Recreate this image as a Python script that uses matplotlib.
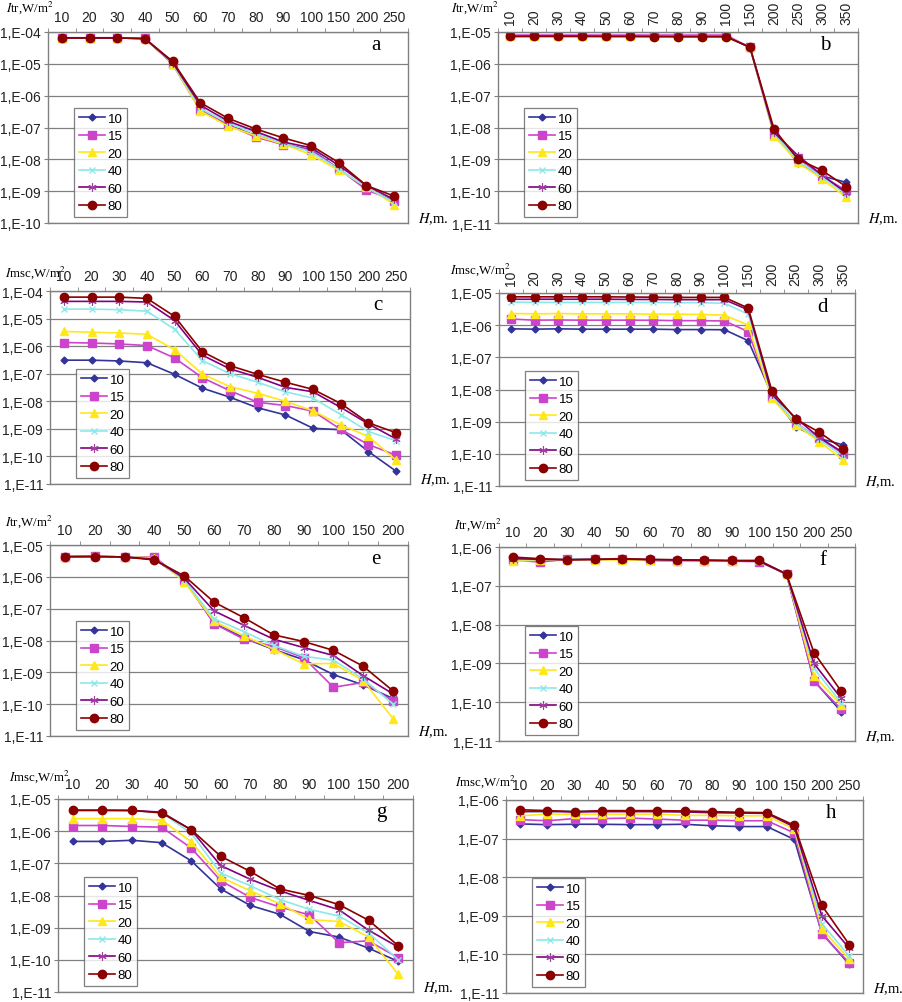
import numpy as np
import matplotlib
matplotlib.use("Agg")
import matplotlib.pyplot as plt
from matplotlib.ticker import FixedLocator, NullFormatter

plt.rcParams['font.family'] = ['Liberation Sans', 'DejaVu Sans']
plt.rcParams['mathtext.fontset'] = 'stix'

# categories (H, m)
h_short = [10, 20, 30, 40, 50, 60, 70, 80, 90, 100, 150, 200, 250]
h_long = [10, 20, 30, 40, 50, 60, 70, 80, 90, 100, 150, 200, 250, 300, 350]
h_200 = [10, 20, 30, 40, 50, 60, 70, 80, 90, 100, 150, 200]

labels = ['10', '15', '20', '40', '60', '80']

# panel a: Itr
itr_a = {
    '10': [6.5e-5, 6.5e-5, 6.5e-5, 6.2e-5, 1.0e-5, 3.5e-7, 1.2e-7, 5.5e-8, 3.0e-8, 2.0e-8, 5.0e-9, 1.2e-9, 5.0e-10],
    '15': [6.6e-5, 6.6e-5, 6.6e-5, 6.4e-5, 1.0e-5, 3.5e-7, 1.2e-7, 5.0e-8, 2.9e-8, 1.9e-8, 5.0e-9, 1.1e-9, 5.0e-10],
    '20': [6.5e-5, 6.5e-5, 6.5e-5, 6.2e-5, 1.0e-5, 3.3e-7, 1.1e-7, 5.5e-8, 3.0e-8, 1.4e-8, 4.5e-9, 1.4e-9, 3.8e-10],
    '40': [6.5e-5, 6.5e-5, 6.5e-5, 6.2e-5, 1.05e-5, 4.0e-7, 1.4e-7, 6.5e-8, 3.2e-8, 1.7e-8, 5.0e-9, 1.3e-9, 4.5e-10],
    '60': [6.5e-5, 6.5e-5, 6.5e-5, 6.2e-5, 1.1e-5, 5.0e-7, 1.6e-7, 7.5e-8, 3.5e-8, 2.3e-8, 6.5e-9, 1.5e-9, 5.5e-10],
    '80': [6.5e-5, 6.5e-5, 6.5e-5, 6.2e-5, 1.2e-5, 6.0e-7, 1.95e-7, 9.0e-8, 4.7e-8, 2.7e-8, 7.9e-9, 1.5e-9, 7.0e-10],
}

# panel b: Itr
itr_b = {
    '10': [7.3e-6] * 10 + [3.3e-6, 7.0e-9, 7.5e-10, 3.0e-10, 1.9e-10],
    '15': [8.0e-6] * 10 + [3.3e-6, 6.0e-9, 1.1e-9, 3.0e-10, 1.05e-10],
    '20': [7.3e-6] * 10 + [3.3e-6, 5.5e-9, 8.0e-10, 2.4e-10, 6.5e-11],
    '40': [7.3e-6] * 10 + [3.3e-6, 6.5e-9, 9.0e-10, 2.8e-10, 8.0e-11],
    '60': [7.3e-6] * 10 + [3.3e-6, 7.0e-9, 1.3e-9, 3.2e-10, 9.0e-11],
    '80': [7.3e-6, 7.4e-6, 7.4e-6, 7.4e-6, 7.3e-6, 7.3e-6, 7.2e-6, 7.1e-6, 7.1e-6, 7.1e-6,
           3.3e-6, 9.0e-9, 1.0e-9, 4.5e-10, 1.4e-10],
}

# panel c: Imsc
imsc_c = {
    '10': [3.1e-7, 3.1e-7, 2.9e-7, 2.5e-7, 9.5e-8, 3.0e-8, 1.4e-8, 5.8e-9, 3.2e-9, 1.05e-9, 9.3e-10, 1.5e-10, 2.9e-11],
    '15': [1.35e-6, 1.3e-6, 1.2e-6, 1.05e-6, 3.7e-7, 7.2e-8, 2.4e-8, 9.2e-9, 7.0e-9, 4.4e-9, 9.5e-10, 2.7e-10, 1.1e-10],
    '20': [3.4e-6, 3.2e-6, 3.0e-6, 2.7e-6, 7.4e-7, 9.8e-8, 3.4e-8, 1.95e-8, 1.0e-8, 4.5e-9, 1.4e-9, 5.3e-10, 7.2e-11],
    '40': [2.2e-5, 2.2e-5, 2.1e-5, 1.85e-5, 4.1e-6, 3.0e-7, 1.0e-7, 4.9e-8, 2.2e-8, 1.3e-8, 3.3e-9, 8.0e-10, 3.7e-10],
    '60': [4.2e-5, 4.2e-5, 4.2e-5, 4.0e-5, 8.5e-6, 4.7e-7, 1.5e-7, 7.4e-8, 3.2e-8, 2.2e-8, 6.0e-9, 1.5e-9, 4.3e-10],
    '80': [6.0e-5, 6.0e-5, 6.0e-5, 5.4e-5, 1.2e-5, 6.3e-7, 1.95e-7, 9.5e-8, 4.9e-8, 2.7e-8, 8.3e-9, 1.65e-9, 7.2e-10],
}

# panel d: Imsc
imsc_d = {
    '10': [7.7e-7, 7.5e-7, 7.7e-7, 7.5e-7, 7.5e-7, 7.5e-7, 7.5e-7, 7.3e-7, 7.3e-7, 7.2e-7,
           3.3e-7, 7.0e-9, 7.0e-10, 3.0e-10, 1.9e-10],
    '15': [1.55e-6, 1.43e-6, 1.45e-6, 1.43e-6, 1.43e-6, 1.43e-6, 1.42e-6, 1.38e-6, 1.38e-6, 1.35e-6,
           6.3e-7, 6.0e-9, 9.0e-10, 3.0e-10, 1.0e-10],
    '20': [2.3e-6, 2.25e-6, 2.3e-6, 2.25e-6, 2.25e-6, 2.25e-6, 2.2e-6, 2.2e-6, 2.15e-6, 2.05e-6,
           1.0e-6, 5.3e-9, 8.0e-10, 2.4e-10, 6.5e-11],
    '40': [5.2e-6, 5.1e-6, 5.1e-6, 5.1e-6, 5.1e-6, 5.1e-6, 5.1e-6, 5.0e-6, 5.0e-6, 4.8e-6,
           2.2e-6, 6.5e-9, 9.0e-10, 2.8e-10, 8.5e-11],
    '60': [6.4e-6, 6.4e-6, 6.4e-6, 6.4e-6, 6.4e-6, 6.3e-6, 6.3e-6, 6.2e-6, 6.2e-6, 6.2e-6,
           3.0e-6, 7.0e-9, 1.3e-9, 3.2e-10, 1.1e-10],
    '80': [7.6e-6, 7.6e-6, 7.6e-6, 7.6e-6, 7.6e-6, 7.5e-6, 7.4e-6, 7.3e-6, 7.3e-6, 7.3e-6,
           3.4e-6, 9.0e-9, 1.2e-9, 4.7e-10, 1.4e-10],
}

# panel e: Itr
itr_e = {
    '10': [4.3e-6, 4.4e-6, 4.2e-6, 3.6e-6, 8.0e-7, 3.5e-8, 1.2e-8, 5.2e-9, 2.5e-9, 8.5e-10, 4.0e-10, 1.5e-10],
    '15': [4.3e-6, 4.4e-6, 4.2e-6, 4.2e-6, 8.0e-7, 3.4e-8, 1.1e-8, 6.5e-9, 2.9e-9, 3.4e-10, 4.8e-10, 1.25e-10],
    '20': [4.3e-6, 4.4e-6, 4.2e-6, 4.0e-6, 7.0e-7, 4.0e-8, 1.4e-8, 5.3e-9, 1.85e-9, 1.9e-9, 5.5e-10, 3.5e-11],
    '40': [4.3e-6, 4.4e-6, 4.2e-6, 3.8e-6, 8.0e-7, 4.8e-8, 1.9e-8, 7.0e-9, 3.2e-9, 2.4e-9, 6.2e-10, 1.0e-10],
    '60': [4.3e-6, 4.4e-6, 4.2e-6, 3.6e-6, 9.0e-7, 8.5e-8, 3.0e-8, 1.1e-8, 6.0e-9, 3.4e-9, 7.8e-10, 2.1e-10],
    '80': [4.3e-6, 4.3e-6, 4.2e-6, 3.4e-6, 1.07e-6, 1.6e-7, 5.2e-8, 1.5e-8, 9.3e-9, 4.9e-9, 1.55e-9, 2.6e-10],
}

# panel f: Itr
itr_f = {
    '10': [4.8e-7, 4.6e-7, 4.7e-7, 4.8e-7, 4.9e-7, 4.7e-7, 4.6e-7, 4.5e-7, 4.4e-7, 4.3e-7, 2.0e-7, 3.6e-10, 5.7e-11],
    '15': [4.6e-7, 4.1e-7, 4.8e-7, 4.8e-7, 4.8e-7, 4.5e-7, 4.3e-7, 4.3e-7, 4.3e-7, 4.2e-7, 2.0e-7, 3.5e-10, 6.5e-11],
    '20': [4.3e-7, 4.6e-7, 4.7e-7, 4.7e-7, 4.6e-7, 4.6e-7, 4.4e-7, 4.4e-7, 4.3e-7, 4.5e-7, 2.0e-7, 4.8e-10, 8.5e-11],
    '40': [4.8e-7, 4.7e-7, 4.9e-7, 4.9e-7, 5.0e-7, 4.8e-7, 4.6e-7, 4.5e-7, 4.4e-7, 4.4e-7, 2.0e-7, 7.5e-10, 9.5e-11],
    '60': [5.0e-7, 4.8e-7, 4.7e-7, 4.8e-7, 4.9e-7, 4.7e-7, 4.6e-7, 4.5e-7, 4.4e-7, 4.3e-7, 2.0e-7, 1.0e-9, 1.25e-10],
    '80': [5.5e-7, 5.0e-7, 4.7e-7, 4.8e-7, 5.0e-7, 4.8e-7, 4.7e-7, 4.6e-7, 4.5e-7, 4.5e-7, 2.0e-7, 1.9e-9, 1.9e-10],
}

# panel g: Imsc
imsc_g = {
    '10': [4.8e-7, 4.8e-7, 5.2e-7, 4.4e-7, 1.2e-7, 1.6e-8, 4.9e-9, 2.6e-9, 7.6e-10, 5.1e-10, 2.3e-10, 8.9e-11],
    '15': [1.5e-6, 1.5e-6, 1.4e-6, 1.33e-6, 3.0e-7, 2.9e-8, 8.7e-9, 4.4e-9, 2.5e-9, 3.4e-10, 3.9e-10, 1.15e-10],
    '20': [2.45e-6, 2.45e-6, 2.45e-6, 2.2e-6, 4.7e-7, 3.7e-8, 1.4e-8, 5.5e-9, 1.8e-9, 1.55e-9, 5.1e-10, 3.5e-11],
    '40': [4.4e-6, 4.4e-6, 4.4e-6, 3.8e-6, 8.6e-7, 5.0e-8, 2.0e-8, 7.5e-9, 3.7e-9, 2.3e-9, 6.8e-10, 1.0e-10],
    '60': [4.4e-6, 4.4e-6, 4.4e-6, 3.9e-6, 1.1e-6, 8.5e-8, 3.2e-8, 1.4e-8, 7.0e-9, 3.6e-9, 8.3e-10, 2.5e-10],
    '80': [4.5e-6, 4.5e-6, 4.4e-6, 3.7e-6, 1.12e-6, 1.66e-7, 5.6e-8, 1.6e-8, 1.0e-8, 5.2e-9, 1.7e-9, 2.75e-10],
}

# panel h: Imsc
imsc_h = {
    '10': [2.4e-7, 2.3e-7, 2.35e-7, 2.35e-7, 2.3e-7, 2.3e-7, 2.35e-7, 2.15e-7, 2.05e-7, 2.05e-7, 9.5e-8, 3.6e-10, 5.5e-11],
    '15': [3.1e-7, 2.9e-7, 3.3e-7, 3.3e-7, 3.4e-7, 3.2e-7, 3.0e-7, 3.0e-7, 2.9e-7, 2.9e-7, 1.4e-7, 3.4e-10, 6.0e-11],
    '20': [3.9e-7, 4.3e-7, 4.3e-7, 4.3e-7, 4.3e-7, 4.3e-7, 4.0e-7, 4.0e-7, 3.9e-7, 3.9e-7, 1.75e-7, 4.6e-10, 7.5e-11],
    '40': [5.0e-7, 4.8e-7, 5.3e-7, 5.1e-7, 5.2e-7, 5.1e-7, 4.9e-7, 4.8e-7, 4.7e-7, 4.5e-7, 2.0e-7, 6.3e-10, 9.0e-11],
    '60': [5.0e-7, 5.1e-7, 4.9e-7, 5.0e-7, 5.0e-7, 5.0e-7, 4.9e-7, 4.7e-7, 4.6e-7, 4.5e-7, 2.0e-7, 1.0e-9, 1.45e-10],
    '80': [5.6e-7, 5.3e-7, 5.0e-7, 5.3e-7, 5.3e-7, 5.3e-7, 5.2e-7, 5.0e-7, 4.8e-7, 4.7e-7, 2.2e-7, 1.85e-9, 1.8e-10],
}

styles = {
    '10': dict(color='#333399', marker='D', ms=3.5, mfc='#333399', mec='#333399'),
    '15': dict(color='#cc44cc', marker='s', ms=5.5, mfc='#cc44cc', mec='#cc44cc'),
    '20': dict(color='#ffe81a', marker='^', ms=5.5, mfc='#ffe81a', mec='#ffe81a'),
    '40': dict(color='#8ee8e8', marker='x', ms=5, mfc='#8ee8e8', mec='#8ee8e8', mew=1.0),
    '60': dict(color='#800080', marker=(6, 2, 0), ms=6, mfc='#800080', mec='#a040a0', mew=0.8),
    '80': dict(color='#8b0000', marker='o', ms=6, mfc='#8b0000', mec='#8b0000'),
}

W, H = 903, 1003
fig = plt.figure(figsize=(W / 100, H / 100), dpi=100)

# (left, top, right, bottom) in pixels, title x and offset above the axes
panels = [
    ('a', (48, 33, 408, 224), (6, 25), h_short, itr_a, (1e-10, 1e-4), 'tr', False),
    ('b', (498, 33, 858, 224), (451, 25), h_long, itr_b, (1e-11, 1e-5), 'tr', True),
    ('c', (50, 292, 410, 485), (5, 19), h_short, imsc_c, (1e-11, 1e-4), 'msc', False),
    ('d', (499, 294, 855, 487), (450, 24), h_long, imsc_d, (1e-11, 1e-5), 'msc', True),
    ('e', (50, 546, 408, 737), (5, 24), h_200, itr_e, (1e-11, 1e-5), 'tr', False),
    ('f', (499, 548, 855, 742), (454, 23), h_short, itr_f, (1e-11, 1e-6), 'tr', False),
    ('g', (58, 800, 413, 993), (9, 23), h_200, imsc_g, (1e-11, 1e-5), 'msc', False),
    ('h', (506, 801, 863, 994), (455, 19), h_short, imsc_h, (1e-11, 1e-6), 'msc', False),
]

serif = ['Liberation Serif', 'DejaVu Serif']

for letter, (l, t, r, b), (tx, toff), cats, series, ylim, kind, rotated in panels:
    ax = fig.add_axes([l / W, 1 - b / H, (r - l) / W, (b - t) / H])
    x = np.arange(len(cats))
    for lab in labels:
        ax.plot(x, series[lab], lw=1.2, label=lab, **styles[lab])
    ax.set_yscale('log')
    ax.set_ylim(*ylim)
    ax.set_xlim(-0.5, len(cats) - 0.5)

    decades = 10.0 ** np.arange(np.log10(ylim[0]), np.log10(ylim[1]) + 0.5)
    ax.yaxis.set_major_locator(FixedLocator(decades))
    ax.yaxis.set_minor_locator(FixedLocator([]))
    ax.set_yticklabels(['1,E%+03d' % round(np.log10(v)) for v in decades])
    ax.yaxis.set_minor_formatter(NullFormatter())
    ax.grid(axis='y', color='#808080', lw=0.9)
    ax.set_axisbelow(True)

    ax.xaxis.tick_top()
    ax.set_xticks(x)
    ax.set_xticklabels([str(c) for c in cats], rotation=90 if rotated else 0)
    ax.set_xticks(np.arange(len(cats) + 1) - 0.5, minor=True)
    ax.tick_params(axis='x', which='major', length=0, pad=6, labelsize=10, colors='#222222')
    ax.tick_params(axis='x', which='minor', length=3, color='#808080', top=True, bottom=False)
    ax.tick_params(axis='y', which='major', length=3, pad=2, labelsize=10, colors='#222222')
    ax.tick_params(axis='y', which='major', color='#808080')
    for s in ax.spines.values():
        s.set_color('#808080')
        s.set_linewidth(1.0)

    ax.text(0.91, 1 - 13 / (b - t), letter, transform=ax.transAxes, ha='center', va='center',
            fontsize=15, family=serif)

    # y-axis title on top-left
    fig.text(tx / W, 1 - (t - toff) / H, r'$I$' + kind + ',W/m$^2$',
             ha='left', va='center', fontsize=9.3, family=serif)
    # x-axis title on bottom-right
    fig.text((r + 10) / W, 1 - (b - 5) / H, r'$H$' + ',m.',
             ha='left', va='center', fontsize=10.5, family=serif)

    leg = ax.legend(loc='lower left', bbox_to_anchor=(26 / (r - l), 6 / (b - t)),
                    fontsize=9.5, handlelength=2.0, handletextpad=0.2, labelspacing=0.4,
                    borderpad=0.35, borderaxespad=0, frameon=True, fancybox=False)
    leg.get_frame().set_edgecolor('#606060')
    leg.get_frame().set_linewidth(0.9)

fig.savefig('out.png', dpi=100)
